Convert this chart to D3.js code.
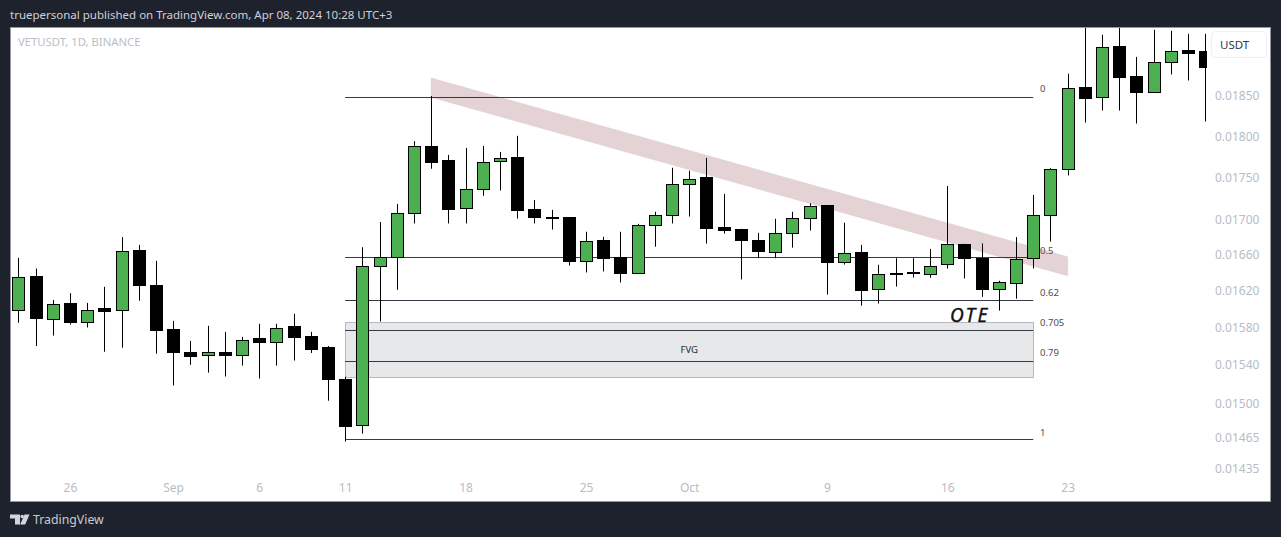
<!DOCTYPE html>
<html>
<head>
<meta charset="utf-8">
<script src="https://cdn.jsdelivr.net/npm/d3@7"></script>
<style>
  html, body { margin: 0; padding: 0; background: #1e222d; }
  svg { display: block; }
  text { font-family: "Noto Sans", sans-serif; }
  .tick text { fill: #b9bcc4; font-size: 12px; font-family: "Noto Sans", sans-serif; }
</style>
</head>
<body>
<div id="chart"></div>
<script>
// Daily candles, Aug 23 .. Oct 31
const opens = [0.015970,0.016343,0.015873,0.016043,0.015845,0.015989,0.015970,0.016633,0.016242,0.015762,0.015525,0.015487,0.015525,0.015487,0.015665,0.015629,0.015794,0.015686,0.015568,0.015234,0.014770,0.016458,0.016563,0.017068,0.017856,0.017688,0.017125,0.017349,0.017684,0.017723,0.017106,0.017013,0.017013,0.016518,0.016748,0.016555,0.016384,0.016929,0.017044,0.017404,0.017484,0.016898,0.016875,0.016748,0.016625,0.016832,0.017005,0.017152,0.016507,0.016618,0.016205,0.016374,0.016386,0.016373,0.016473,0.016706,0.016551,0.016201,0.016268,0.016551,0.017040,0.017584,0.018591,0.018466,0.019117,0.018731,0.018536,0.018920,0.019064,0.019051];
const highs = [0.016555,0.016435,0.016086,0.016161,0.016054,0.016231,0.016791,0.016702,0.016521,0.015859,0.015643,0.015805,0.015740,0.015686,0.015827,0.015827,0.015935,0.015740,0.015589,0.015265,0.016675,0.016964,0.017175,0.017927,0.018488,0.017759,0.017844,0.017868,0.017795,0.017992,0.017221,0.017106,0.017013,0.016852,0.016794,0.016852,0.016944,0.017083,0.017604,0.017568,0.017723,0.017293,0.016886,0.016840,0.017002,0.017083,0.017183,0.017163,0.016956,0.016702,0.016477,0.016551,0.016551,0.016656,0.017386,0.016714,0.016718,0.016298,0.016791,0.017281,0.017600,0.018770,0.019470,0.019275,0.019470,0.018987,0.019341,0.019328,0.019288,0.019288];
const lows = [0.015838,0.015589,0.015700,0.015819,0.015787,0.015528,0.015571,0.016078,0.015507,0.015175,0.015390,0.015309,0.015268,0.015382,0.015247,0.015382,0.015435,0.015515,0.015018,0.014605,0.014685,0.015852,0.016198,0.016948,0.017592,0.016948,0.016948,0.017272,0.017333,0.017005,0.016948,0.016878,0.016469,0.016391,0.016402,0.016279,0.016384,0.016682,0.016948,0.017028,0.016717,0.016832,0.016313,0.016551,0.016551,0.016671,0.016867,0.016145,0.016480,0.016024,0.016046,0.016234,0.016335,0.016332,0.016435,0.016324,0.016120,0.015970,0.016100,0.016435,0.016740,0.017512,0.018156,0.018305,0.018305,0.018144,0.018536,0.018761,0.018684,0.018169];
const closes = [0.016332,0.015884,0.016040,0.015841,0.015975,0.015956,0.016625,0.016246,0.015751,0.015518,0.015484,0.015522,0.015494,0.015651,0.015625,0.015780,0.015679,0.015546,0.015227,0.014756,0.016462,0.016563,0.017068,0.017865,0.017667,0.017109,0.017349,0.017672,0.017720,0.017098,0.017017,0.017009,0.016513,0.016744,0.016547,0.016380,0.016929,0.017044,0.017409,0.017469,0.016890,0.016867,0.016748,0.016622,0.016837,0.017010,0.017148,0.016502,0.016607,0.016190,0.016373,0.016372,0.016384,0.016462,0.016703,0.016547,0.016201,0.016283,0.016540,0.017040,0.017588,0.018587,0.018450,0.019113,0.018719,0.018530,0.018920,0.019060,0.019030,0.018850];

const dayTicks = [3, 9, 14, 19, 26, 33, 39, 47, 54, 61];
const dayLabels = ["26", "Sep", "6", "11", "18", "25", "Oct", "9", "16", "23"];
const priceTicks = [0.0185, 0.018, 0.0175, 0.017, 0.0166, 0.0162, 0.0158, 0.0154, 0.015, 0.01465, 0.01435];

// Fib drawing: levels, labels
const fibLevels = [0.018472, 0.016555, 0.016081, 0.015757, 0.015424, 0.014629];
const fibLabels = ["0", "0.5", "0.62", "0.705", "0.79", "1"];
const fibLabelLift = [5, 3.5, 4.5, 4.5, 5.5, 3.5];
const fibDays = [19, 59];
const fvgPrices = [0.015843, 0.015260];
// Falling channel: [day, price] corners
const bandCorners = [[24, 0.018715], [61, 0.016566], [61, 0.016354], [24, 0.018472]];

const width = 1281, height = 537;
const svg = d3.select("#chart").append("svg").attr("width", width).attr("height", height);

svg.append("rect").attr("width", width).attr("height", height).attr("fill", "#1e222d");
svg.append("rect")
  .attr("x", 10.5).attr("y", 27.5).attr("width", 1260).attr("height", 474)
  .attr("fill", "#fff").attr("stroke", "#9598a1");

const x = d3.scaleLinear().domain([0, 69]).range([18.3, 1205.3]);
const y = d3.scaleLog().domain([0.014025, 0.019365]).range([501, 28]);
const crisp = v => Math.floor(v) + 0.5;
const crispX = v => Math.round(v) + 0.5;

svg.append("clipPath").attr("id", "plot-clip").append("rect")
  .attr("x", 11).attr("y", 28).attr("width", 1196).attr("height", 473);

// Drawings sit under the candles
const gDraw = svg.append("g");

gDraw.append("path")
  .attr("d", d3.line().x(d => x(d[0])).y(d => y(d[1]))(bandCorners) + "Z")
  .attr("fill", "#e5d2d4").attr("stroke", "#d9ccd0").attr("stroke-width", 0.6);

gDraw.append("rect")
  .attr("x", crisp(x(fibDays[0])))
  .attr("y", crisp(y(fvgPrices[0])))
  .attr("width", Math.round(x(fibDays[1]) - x(fibDays[0])))
  .attr("height", Math.round(y(fvgPrices[1]) - y(fvgPrices[0])))
  .attr("fill", "#e7e8ea").attr("stroke", "#b6b8c2");

gDraw.selectAll("line.fib").data(fibLevels).enter().append("line")
  .attr("class", "fib")
  .attr("x1", x(fibDays[0])).attr("x2", x(fibDays[1]))
  .attr("y1", d => crisp(y(d))).attr("y2", d => crisp(y(d)))
  .attr("stroke", "#363a45");

gDraw.selectAll("text.fib-label").data(fibLevels).enter().append("text")
  .attr("class", "fib-label")
  .attr("x", 1040)
  .attr("y", (d, i) => y(d) - fibLabelLift[i])
  .attr("font-size", 9.5)
  .attr("fill", "#4a4d55")
  .text((d, i) => fibLabels[i]);

gDraw.append("text")
  .attr("x", (x(fibDays[0]) + x(fibDays[1])) / 2).attr("y", 352.5)
  .attr("text-anchor", "middle").attr("font-size", 9.5).attr("fill", "#26282e")
  .text("FVG");

// Candles
const gCandles = svg.append("g").attr("clip-path", "url(#plot-clip)");
const candles = gCandles.selectAll("g.candle").data(d3.range(opens.length)).enter().append("g")
  .attr("class", "candle");

candles.append("line")
  .attr("x1", i => crispX(x(i))).attr("x2", i => crispX(x(i)))
  .attr("y1", i => y(highs[i])).attr("y2", i => y(lows[i]))
  .attr("stroke", "#000");

candles.append("rect")
  .attr("x", i => crispX(x(i)) - 6)
  .attr("width", 12)
  .attr("y", i => crisp(y(Math.max(opens[i], closes[i]))))
  .attr("height", i => Math.max(Math.round(Math.abs(y(opens[i]) - y(closes[i]))), 1))
  .attr("fill", i => closes[i] > opens[i] ? "#4caf50" : "#000")
  .attr("stroke", "#000");

svg.append("text")
  .attr("x", 950).attr("y", 322)
  .attr("font-family", "DejaVu Sans").attr("font-style", "italic")
  .attr("font-size", 19).attr("letter-spacing", 2.4).attr("fill", "#111")
  .attr("stroke", "#111").attr("stroke-width", 0.4)
  .text("OTE");

// Axes
const yAxis = d3.axisRight(y).tickValues(priceTicks).tickFormat(d3.format(".5f")).tickSize(0).tickPadding(0);
svg.append("g").attr("transform", "translate(1215,1)").call(yAxis).call(g => g.select(".domain").remove());

const xAxis = d3.axisBottom(x).tickValues(dayTicks).tickFormat((d, i) => dayLabels[i]).tickSize(0).tickPadding(0);
svg.append("g").attr("transform", "translate(0,483)").call(xAxis).call(g => g.select(".domain").remove());

// Header and labels
svg.append("text").attr("x", 10).attr("y", 19)
  .attr("font-size", 11.5).attr("fill", "#cfd1d6")
  .text("truepersonal published on TradingView.com, Apr 08, 2024 10:28 UTC+3");
svg.append("text").attr("x", 18).attr("y", 46)
  .attr("font-size", 11.3).attr("fill", "#bcbec6")
  .text("VETUSDT, 1D, BINANCE");

svg.append("rect")
  .attr("x", 1211.5).attr("y", 31.5).attr("width", 55).attr("height", 26).attr("rx", 4)
  .attr("fill", "#fff").attr("stroke", "#eff0f4");
svg.append("text").attr("x", 1220).attr("y", 49)
  .attr("font-size", 11.5).attr("fill", "#363a45").text("USDT");

// TradingView mark
const gLogo = svg.append("g").attr("fill", "#d1d4dc");
gLogo.append("path").attr("d", "M10 514.5H20V524.5H15V518.5H10Z");
gLogo.append("circle").attr("cx", 22.2).attr("cy", 516.5).attr("r", 1.8);
gLogo.append("path").attr("d", "M24.5 514.5H29.5L25.2 524.5H20.2Z");
svg.append("text").attr("x", 33).attr("y", 524)
  .attr("font-size", 12.3).attr("fill", "#c9cbd0").text("TradingView");
</script>
</body>
</html>
